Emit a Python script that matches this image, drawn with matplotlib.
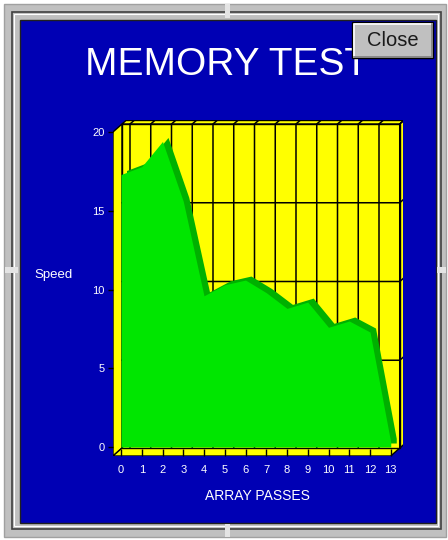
import matplotlib.pyplot as plt
from matplotlib.patches import Rectangle, Polygon

# data
passes = list(range(14))
speed = [17.3, 17.8, 19.4, 15.6, 9.6, 10.3, 10.6, 9.8, 8.8, 9.2, 7.6, 8.0, 7.3, 0.3]
y_ticks = [0, 5, 10, 15, 20]

title = 'MEMORY TEST'
x_title = 'ARRAY PASSES'
y_title = 'Speed'
button_text = 'Close'

BLUE = '#0000b4'
YELLOW = '#ffff00'
GREEN = '#00e600'
DARK_GREEN = '#00b000'
GRAY = '#c0c0c0'
FONT = ['Liberation Sans', 'DejaVu Sans']

fig = plt.figure(figsize=(4.48, 5.40), dpi=100, facecolor='white')

# window frame, drawn in pixel coordinates
bg = fig.add_axes([0, 0, 1, 1])
bg.set_xlim(0, 448)
bg.set_ylim(540, 0)
bg.axis('off')
bg.add_patch(Rectangle((4, 4), 442, 533, fc=GRAY, ec='#a0a0a0', lw=1))
bg.add_patch(Rectangle((12, 12), 429, 517, fc='none', ec='#404040', lw=1.2))
bg.add_patch(Rectangle((14, 14), 424, 512, fc='none', ec='white', lw=0.8))
bg.add_patch(Rectangle((19.5, 19.5), 416, 503, fc=BLUE, ec='#202020', lw=1))
# little sizing handles on the frame
for hx, hy, hw, hh in [(225, 4, 5, 14), (225, 524, 5, 13), (5, 267, 13, 6), (437, 267, 9, 6)]:
    bg.add_patch(Rectangle((hx, hy), hw, hh, fc='#e4e4e4', ec='none'))

# title sits partly behind the Close button, as in the original window
bg.text(226.5, 75, title, color='white', fontsize=28, ha='center', va='baseline',
        family=FONT, zorder=3)

# Close button
bg.add_patch(Rectangle((352, 22), 81, 36, fc=GRAY, ec='black', lw=1, zorder=4))
bg.plot([353.5, 353.5, 431.5], [56.5, 23.5, 23.5], color='white', lw=1.2, zorder=5)
bg.plot([353.5, 431.5, 431.5], [56.5, 56.5, 23.5], color='#808080', lw=1.2, zorder=5)
bg.text(392.5, 41, button_text, color='#1a1a1a', fontsize=14.5, ha='center', va='center',
        family=FONT, zorder=6)

# chart axes: data units on the front plane of the 3D box
px_i = 20.75   # pixels per pass
px_v = 15.75   # pixels per speed unit
ax = fig.add_axes([113 / 448, 84 / 540, 290 / 448, 336 / 540])
ax.set_xlim((113 - 121) / px_i, (403 - 121) / px_i)
ax.set_ylim(-9 / px_v, 327 / px_v)
ax.patch.set_visible(False)
for s in ax.spines.values():
    s.set_visible(False)

dx, dv = 9 / px_i, 8 / px_v        # box depth
sx, sv = 4 / px_i, 3.5 / px_v      # wall thickness
ex, ev = 6 / px_i, 3.5 / px_v      # area series depth

iL, iR = ax.get_xlim()[0], passes[-1]
vB, vT = ax.get_ylim()[0], y_ticks[-1]
edge = dict(ec='black', lw=1, joinstyle='miter')

ax.add_patch(Polygon([(iL, vB), (iL, vT), (iL + dx, vT + dv), (iL + dx, vB + dv)],
                     fc=YELLOW, **edge))
ax.add_patch(Polygon([(iL, vB), (iR, vB), (iR + dx, vB + dv), (iL + dx, vB + dv)],
                     fc=YELLOW, **edge))
ax.add_patch(Polygon([(iL + dx, vT + dv), (iR + dx, vT + dv),
                      (iR + dx + sx, vT + dv + sv), (iL + dx + sx, vT + dv + sv)],
                     fc=YELLOW, **edge))
ax.add_patch(Polygon([(iR + dx, vB + dv), (iR + dx, vT + dv),
                      (iR + dx + sx, vT + dv + sv), (iR + dx + sx, vB + dv + sv)],
                     fc=YELLOW, **edge))
ax.add_patch(Rectangle((iL + dx, vB + dv), iR - iL, vT - vB, fc=YELLOW, **edge))

# back wall grid
for p in passes:
    ax.plot([p + dx, p + dx, p + dx + sx], [vB + dv, vT + dv, vT + dv + sv],
            color='black', lw=1.1, solid_joinstyle='miter')
for t in y_ticks[1:-1]:
    ax.plot([iL + dx, iR + dx, iR + dx + sx], [t + dv, t + dv, t + dv + sv],
            color='black', lw=1.1)

# area series: dark top surface, then the front face
top_back = [(p + ex, s + ev) for p, s in zip(passes, speed)]
ax.add_patch(Polygon([(passes[0] + ex, ev)] + top_back + [(passes[-1] + ex, ev)],
                     fc=DARK_GREEN, ec='none', zorder=3))
ax.fill_between(passes, 0, speed, color=GREEN, lw=0, zorder=4)

ax.set_xticks(passes)
ax.set_xticklabels([str(p) for p in passes], family=FONT)
ax.set_yticks(y_ticks)
ax.set_yticklabels([str(t) for t in y_ticks], family=FONT)
ax.tick_params(axis='x', direction='in', length=5, width=1, color='black',
               labelcolor='white', labelsize=8, pad=6.5)
ax.tick_params(axis='y', direction='out', length=3.5, width=1, color='black',
               labelcolor='white', labelsize=8, pad=2.5)

ax.set_xlabel(x_title, color='white', fontsize=10, family=FONT, va='center')
ax.xaxis.set_label_coords(0.497, -0.119)
ax.set_ylabel(y_title, color='white', fontsize=9.5, family=FONT, rotation=0,
              ha='center', va='center')
ax.yaxis.set_label_coords(-0.206, 0.539)

fig.savefig('out.png', dpi=100, facecolor='white')
